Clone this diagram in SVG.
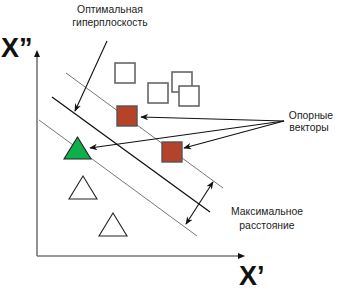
<svg xmlns="http://www.w3.org/2000/svg" width="338" height="298" viewBox="0 0 338 298">
<defs>
<marker id="ah" viewBox="0 0 10 10" refX="9" refY="5" markerWidth="8" markerHeight="8" orient="auto-start-reverse" markerUnits="userSpaceOnUse"><path d="M0,1 L10,5 L0,9 L3,5 Z" fill="#111"/></marker>
</defs>
<style>
.lbl{font-family:"Liberation Sans",Arial,sans-serif;font-size:10.4px;fill:#222;text-anchor:middle}
.axl{font-family:"Liberation Sans",Arial,sans-serif;font-size:27px;font-weight:bold;fill:#111}
.ax{stroke:#777;stroke-width:1.6;fill:none}
.mg{stroke:#777;stroke-width:1;fill:none}
.hp{stroke:#111;stroke-width:1.3;fill:none}
.ar{stroke:#111;stroke-width:1.1;fill:none}
.ws{fill:#fff;stroke:#666;stroke-width:1.6}
.rs{fill:#B5432A;stroke:#555;stroke-width:1.4}
.wt{fill:#fff;stroke:#222;stroke-width:1.1}
.gt{fill:#0DB04B;stroke:#222;stroke-width:1.1}
</style>
<g id="axes">
<line class="ax" x1="37" y1="256" x2="37" y2="54"/>
<line class="ax" x1="37" y1="256" x2="241" y2="256"/>
<path d="M37,50 L34,57 L40,57 Z" fill="#111"/>
<path d="M245,256 L238,253 L238,259 Z" fill="#111"/>
<text class="axl" x="1" y="57">X”</text>
<text class="axl" x="239" y="285">X’</text>
</g>
<g id="connectors">
<line class="mg" x1="66" y1="73" x2="223" y2="188"/>
<line class="mg" x1="39" y1="120" x2="197" y2="236"/>
<line class="hp" x1="52" y1="97" x2="210" y2="212"/>
<line class="ar" x1="107" y1="41" x2="75" y2="111" marker-end="url(#ah)"/>
<line class="ar" x1="186" y1="224" x2="213" y2="182" marker-start="url(#ah)" marker-end="url(#ah)"/>
<line class="ar" x1="284" y1="121" x2="141" y2="117" marker-end="url(#ah)"/>
<line class="ar" x1="284" y1="121" x2="90" y2="148" marker-end="url(#ah)"/>
<line class="ar" x1="284" y1="121" x2="184" y2="148" marker-end="url(#ah)"/>
</g>
<g id="sq1"><rect class="ws" x="115" y="63" width="20" height="20"/></g>
<g id="sq2"><rect class="ws" x="148" y="83" width="20" height="20"/></g>
<g id="sq3"><rect class="ws" x="172" y="72" width="20" height="20"/></g>
<g id="sq4"><rect class="ws" x="179" y="86" width="20" height="20"/></g>
<g id="sv1"><rect class="rs" x="117" y="106" width="20" height="20"/></g>
<g id="sv2"><rect class="rs" x="162" y="142" width="20" height="20"/></g>
<g id="sv3"><path class="gt" d="M77.5,137 L64,159 L91,159 Z"/></g>
<g id="tr1"><path class="wt" d="M83,176 L69,199 L97,199 Z"/></g>
<g id="tr2"><path class="wt" d="M113,213 L99,236 L127,236 Z"/></g>
<g id="label-hyperplane"><text class="lbl" x="110" y="13">Оптимальная</text><text class="lbl" x="110" y="26">гиперплоскость</text></g>
<g id="label-sv"><text class="lbl" x="311" y="119">Опорные</text><text class="lbl" x="309" y="131">векторы</text></g>
<g id="label-margin"><text class="lbl" x="267" y="215">Максимальное</text><text class="lbl" x="267" y="229">расстояние</text></g>
</svg>
